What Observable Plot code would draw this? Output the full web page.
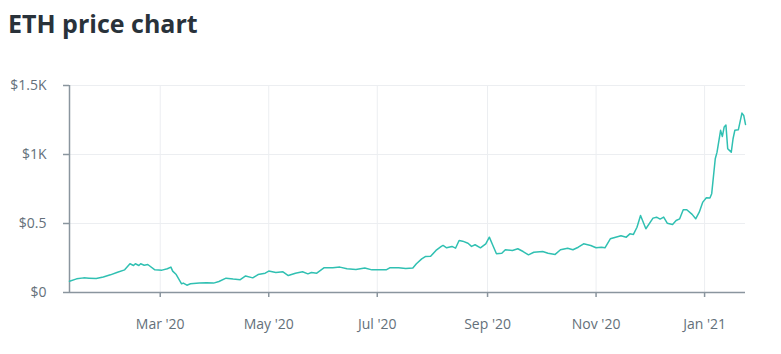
<!DOCTYPE html>
<html>
<head>
<meta charset="utf-8">
<script src="https://cdn.jsdelivr.net/npm/d3@7"></script>
<script src="https://cdn.jsdelivr.net/npm/@observablehq/plot@0.6"></script>
<style>
  html, body { margin: 0; padding: 0; background: #fff; }
  body { width: 781px; height: 354px; position: relative; overflow: hidden; font-family: "Open Sans", sans-serif; }
  #title { position: absolute; left: 8px; top: 11px; font-size: 25px; line-height: 25px; font-weight: 700; color: #29323a; margin: 0; }
  #chart { position: absolute; left: 0; top: 60px; }
</style>
</head>
<body>
<div id="title">ETH price chart</div>
<div id="chart"></div>
<script>
const dates = [
  "2020-01-10","2020-01-14","2020-01-18","2020-01-21","2020-01-25","2020-01-29",
  "2020-02-02","2020-02-06","2020-02-10","2020-02-12","2020-02-13","2020-02-15",
  "2020-02-16","2020-02-18","2020-02-19","2020-02-21","2020-02-23","2020-02-27",
  "2020-03-02","2020-03-05","2020-03-07","2020-03-08","2020-03-10","2020-03-13",
  "2020-03-14","2020-03-16","2020-03-18","2020-03-23","2020-03-27","2020-03-31",
  "2020-04-03","2020-04-07","2020-04-11","2020-04-15","2020-04-18","2020-04-22",
  "2020-04-25","2020-04-29","2020-05-01","2020-05-05","2020-05-09","2020-05-12",
  "2020-05-16","2020-05-20","2020-05-23","2020-05-25","2020-05-28","2020-06-01",
  "2020-06-06","2020-06-10","2020-06-14","2020-06-19","2020-06-24","2020-06-28",
  "2020-07-03","2020-07-06","2020-07-08","2020-07-13","2020-07-17","2020-07-21",
  "2020-07-23","2020-07-26","2020-07-28","2020-07-31","2020-08-03","2020-08-06",
  "2020-08-07","2020-08-09","2020-08-12","2020-08-14","2020-08-16","2020-08-18",
  "2020-08-21","2020-08-23","2020-08-25","2020-08-28","2020-08-31","2020-09-02",
  "2020-09-04","2020-09-06","2020-09-09","2020-09-11","2020-09-15","2020-09-18",
  "2020-09-21","2020-09-24","2020-09-27","2020-10-02","2020-10-05","2020-10-09",
  "2020-10-12","2020-10-16","2020-10-19","2020-10-22","2020-10-25","2020-10-29",
  "2020-11-01","2020-11-04","2020-11-06","2020-11-09","2020-11-12","2020-11-15",
  "2020-11-18","2020-11-20","2020-11-22","2020-11-24","2020-11-26","2020-11-29",
  "2020-12-03","2020-12-05","2020-12-07","2020-12-09","2020-12-11","2020-12-14",
  "2020-12-16","2020-12-18","2020-12-20","2020-12-22","2020-12-25","2020-12-27",
  "2020-12-29","2020-12-31","2021-01-02","2021-01-04","2021-01-05","2021-01-07",
  "2021-01-08","2021-01-10","2021-01-11","2021-01-12","2021-01-13","2021-01-14",
  "2021-01-16","2021-01-17","2021-01-18","2021-01-20","2021-01-22","2021-01-23",
  "2021-01-24"
];
const prices = [
  82, 99, 106, 104, 101, 113,
  128, 147, 164, 193, 208, 196,
  208, 196, 208, 198, 203, 164,
  162, 172, 184, 155, 130, 63,
  68, 53, 63, 68, 70, 68,
  80, 104, 97, 93, 120, 106,
  130, 140, 155, 145, 150, 123,
  140, 150, 135, 145, 140, 179,
  179, 184, 172, 167, 177, 164,
  164, 164, 179, 179, 174, 177,
  208, 244, 260, 262, 305, 334,
  341, 324, 334, 321, 377, 372,
  357, 334, 346, 324, 353, 401,
  341, 281, 285, 310, 305, 317,
  297, 273, 292, 297, 285, 276,
  310, 321, 310, 328, 353, 341,
  324, 328, 324, 389, 401, 411,
  401, 425, 421, 473, 558, 462,
  539, 546, 532, 546, 502, 493,
  522, 534, 600, 600, 566, 534,
  582, 655, 687, 685, 716, 969,
  1017, 1175, 1131, 1199, 1213, 1042,
  1017, 1114, 1175, 1180, 1300, 1283,
  1218
];
const xTickDates = ["2020-03-01","2020-05-01","2020-07-01","2020-09-01","2020-11-01","2021-01-01"];
const xTickLabels = ["Mar '20","May '20","Jul '20","Sep '20","Nov '20","Jan '21"];
const yTicks = [0, 500, 1000, 1500];
const yTickLabels = ["$0", "$0.5", "$1K", "$1.5K"];

const data = dates.map((d, i) => ({date: new Date(d + "T00:00:00Z"), price: prices[i]}));
const xTicks = xTickDates.map(d => new Date(d + "T00:00:00Z"));
const fmtX = d => xTickLabels[xTicks.findIndex(t => +t === +d)];
const fmtY = d => yTickLabels[yTicks.indexOf(d)];

const axisColor = "#8a959e";
const labelColor = "#64707a";
const gridColor = "#eceef1";

const chart = Plot.plot({
  width: 781,
  height: 290,
  marginLeft: 69,
  marginRight: 36,
  marginTop: 25,
  marginBottom: 58,
  style: {fontFamily: "'Open Sans', sans-serif", fontSize: "14px", background: "transparent"},
  x: {type: "utc", domain: d3.extent(data, d => d.date)},
  y: {domain: [yTicks[0], yTicks[yTicks.length - 1]]},
  marks: [
    Plot.gridX({ticks: xTicks, stroke: gridColor, strokeOpacity: 1, strokeWidth: 1}),
    Plot.gridY({ticks: yTicks, stroke: gridColor, strokeOpacity: 1, strokeWidth: 1}),
    Plot.axisX({ticks: xTicks, tickFormat: fmtX, tickSize: 5, tickPadding: 22, stroke: axisColor, fill: labelColor, strokeWidth: 1.5, label: null, fontSize: 14}),
    Plot.axisY({ticks: yTicks, tickFormat: fmtY, tickSize: 6, tickPadding: 17, stroke: axisColor, fill: labelColor, strokeWidth: 1.5, label: null, fontSize: 14}),
    Plot.ruleY([yTicks[0]], {stroke: axisColor, strokeWidth: 1.5}),
    Plot.ruleX([data[0].date], {stroke: axisColor, strokeWidth: 1.5}),
    Plot.lineY(data, {x: "date", y: "price", stroke: "#30c0b2", strokeWidth: 1.5})
  ]
});
document.getElementById("chart").appendChild(chart);
</script>
</body>
</html>
